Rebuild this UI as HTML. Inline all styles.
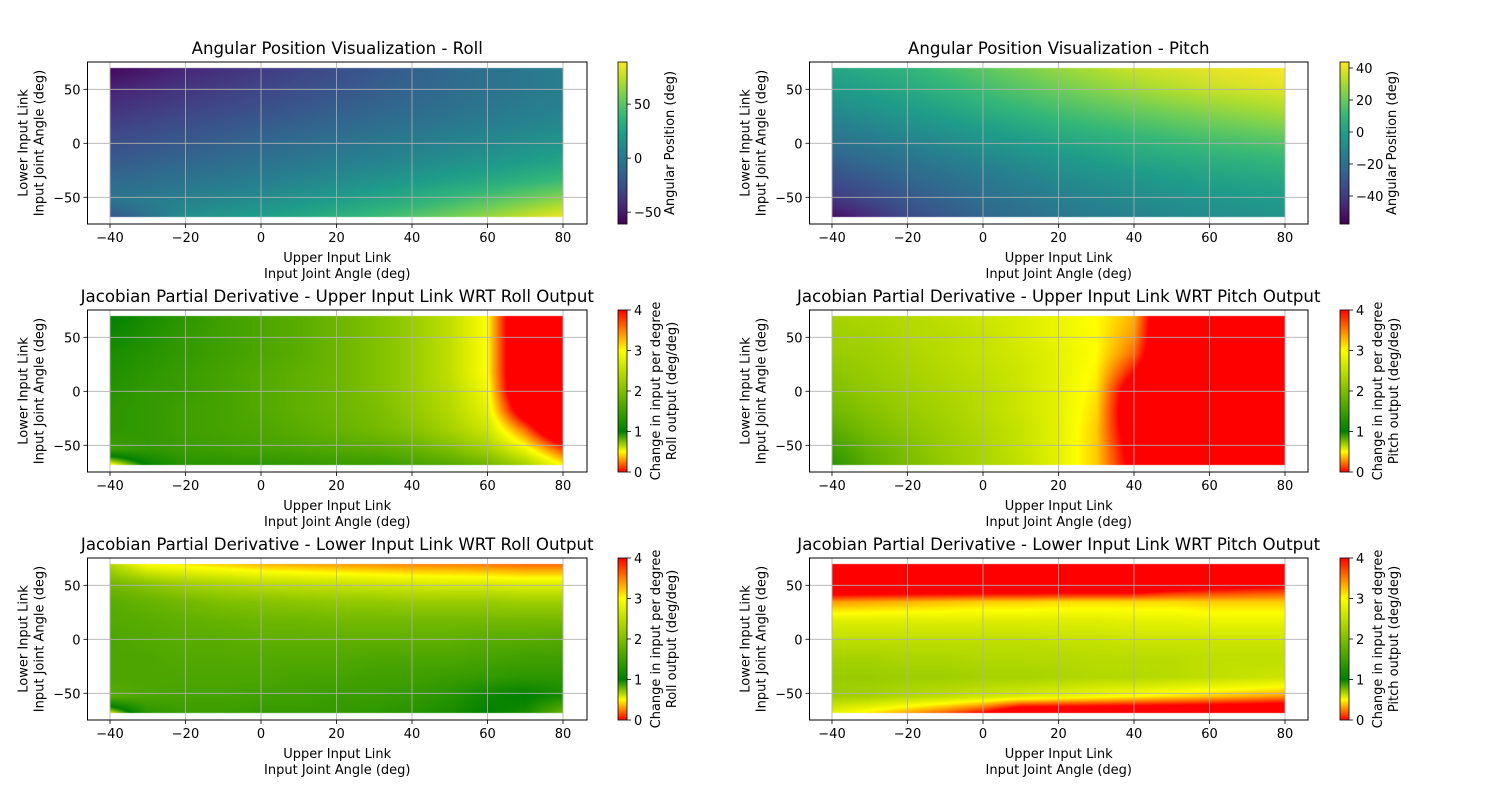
<!DOCTYPE html>
<html><head><meta charset="utf-8">
<style>
html,body{margin:0;padding:0;background:#fff;}
#wrap{position:relative;width:1500px;height:800px;overflow:hidden;}
canvas,svg{position:absolute;left:0;top:0;}
text{font-family:"DejaVu Sans","Liberation Sans",sans-serif;fill:#000;}
</style></head>
<body>
<div id="wrap">
<canvas id="cv" width="1500" height="800"></canvas>
<svg id="sv" width="1500" height="800" xmlns="http://www.w3.org/2000/svg"></svg>
</div>
<script>
// ---- data ----
const xCats = [-40,-30,-20,-10,0,10,20,30,40,50,60,70,80];
const xCats7 = [-40,-20,0,20,40,60,80];
const yCats = [70,52.5,35,17.5,0,-17.5,-35,-52.5,-70];
const xTicks = [-40,-20,0,20,40,60,80];
const yTicks = [-50,0,50];
const rollTicks = [-50,0,50];
const pitchTicks = [-40,-20,0,20,40];
const jacTicks = [0,1,2,3,4];

const rollValues = [
[-58,-45,-35,-25,-15,-5,3],
[-48,-38,-30,-22,-13,-5,3],
[-40,-32,-25,-17,-10,-2,5],
[-32,-25,-18,-11,-4,3,10],
[-25,-18,-11,-4,3,10,18],
[-18,-11,-4,3,10,18,27],
[-10,-3,4,12,20,30,42],
[-2,5,13,22,33,48,65],
[-25,15,24,35,50,68,88]];
const pitchValues = [
[2,8,18,28,36,40,43],
[-2,4,13,22,30,36,40],
[-8,-1,7,15,22,28,33],
[-14,-7,0,8,14,20,25],
[-20,-13,-6,1,7,12,16],
[-27,-19,-12,-5,1,5,9],
[-34,-25,-17,-10,-5,0,3],
[-42,-30,-21,-14,-9,-5,-2],
[-56,-35,-25,-18,-13,-9,-6]];
const jacUpperRoll = [
[1.0,1.2,1.35,1.5,1.6,1.7,1.85,2.0,2.2,2.5,3.0,5,5],
[1.1,1.25,1.4,1.5,1.6,1.7,1.85,2.0,2.2,2.5,3.0,5,5],
[1.2,1.3,1.4,1.5,1.6,1.7,1.85,2.0,2.2,2.5,3.0,5,5],
[1.25,1.35,1.45,1.55,1.65,1.75,1.85,2.0,2.2,2.5,3.0,5,5],
[1.3,1.4,1.45,1.55,1.65,1.75,1.85,2.0,2.2,2.45,2.9,5,5],
[1.35,1.4,1.5,1.55,1.65,1.75,1.85,1.95,2.15,2.4,2.8,4.5,5],
[1.35,1.4,1.5,1.55,1.6,1.7,1.8,1.9,2.05,2.3,2.6,3.6,5],
[1.5,1.4,1.45,1.5,1.55,1.6,1.65,1.7,1.8,2.0,2.3,2.9,3.8],
[0.3,1.0,1.3,1.3,1.3,1.35,1.4,1.4,1.5,1.6,1.8,2.2,2.9]];
const jacUpperPitch = [
[2.3,2.35,2.4,2.5,2.6,2.7,2.85,3.0,3.3,5,5,5,5],
[2.25,2.3,2.4,2.45,2.55,2.7,2.85,3.0,3.4,5,5,5,5],
[2.2,2.25,2.35,2.45,2.55,2.65,2.8,3.0,3.6,5,5,5,5],
[2.1,2.2,2.3,2.4,2.5,2.6,2.8,3.05,4.0,5,5,5,5],
[2.0,2.15,2.25,2.35,2.45,2.6,2.8,3.1,4.5,5,5,5,5],
[1.9,2.05,2.2,2.3,2.45,2.6,2.8,3.15,4.6,5,5,5,5],
[1.7,1.95,2.1,2.25,2.4,2.55,2.8,3.2,4.5,5,5,5,5],
[1.5,1.8,2.0,2.2,2.35,2.55,2.8,3.2,4.3,5,5,5,5],
[1.3,1.7,1.95,2.15,2.35,2.5,2.8,3.2,4.2,5,5,5,5]];
const jacLowerRoll = [
[2.4,3.0,3.1,3.2,3.3,3.35,3.4,3.45,3.5,3.5,3.55,3.6,3.6],
[1.9,2.1,2.3,2.4,2.5,2.55,2.6,2.65,2.7,2.75,2.75,2.8,2.8],
[1.7,1.8,1.9,2.0,2.05,2.1,2.15,2.15,2.2,2.2,2.2,2.25,2.25],
[1.65,1.7,1.75,1.8,1.85,1.85,1.9,1.9,1.9,1.9,1.9,1.9,1.9],
[1.6,1.65,1.7,1.7,1.75,1.75,1.75,1.75,1.75,1.75,1.7,1.7,1.65],
[1.6,1.6,1.65,1.65,1.65,1.65,1.65,1.6,1.6,1.6,1.55,1.5,1.5],
[1.6,1.6,1.6,1.6,1.6,1.55,1.55,1.5,1.5,1.45,1.4,1.35,1.35],
[1.7,1.6,1.55,1.55,1.5,1.5,1.45,1.45,1.4,1.3,1.1,1.0,1.2],
[0.4,1.3,1.45,1.45,1.4,1.4,1.4,1.35,1.3,1.2,1.0,1.2,1.9]];
const jacLowerPitch = [
[5,5,5,5,5,5,5,5,5,5,5,5,5],
[5,5,5,5,5,5,5,5,5,4.6,4.4,4.3,4.2],
[3.4,3.35,3.3,3.25,3.2,3.2,3.15,3.15,3.15,3.15,3.2,3.2,3.2],
[2.75,2.75,2.75,2.75,2.75,2.75,2.75,2.75,2.8,2.8,2.85,2.85,2.85],
[2.5,2.5,2.5,2.5,2.5,2.5,2.55,2.55,2.6,2.6,2.6,2.6,2.6],
[2.3,2.3,2.35,2.35,2.4,2.4,2.4,2.45,2.45,2.45,2.5,2.5,2.5],
[2.2,2.2,2.25,2.25,2.3,2.3,2.35,2.4,2.4,2.45,2.5,2.55,2.6],
[2.25,2.3,2.4,2.5,2.6,2.7,2.8,2.9,3.0,3.1,3.2,3.3,3.4],
[2.9,3.2,3.5,3.8,4.2,5,5,5,5,5,5,5,5]];

// ---- colormaps ----
const viridisStops=[[68,1,84],[72,40,120],[62,74,137],[49,104,142],[38,130,142],[31,158,137],[53,183,121],[109,205,89],[180,222,44],[253,231,37]];
function viridis(t){t=Math.max(0,Math.min(1,t));const n=viridisStops.length-1;const f=t*n;const i=Math.min(n-1,Math.floor(f));const u=f-i;const a=viridisStops[i],b=viridisStops[i+1];return [a[0]+(b[0]-a[0])*u,a[1]+(b[1]-a[1])*u,a[2]+(b[2]-a[2])*u];}
const jacStops=[[0,[255,0,0]],[0.125,[255,255,0]],[0.25,[0,128,0]],[0.75,[255,255,0]],[1,[255,0,0]]];
function jacmap(t){t=Math.max(0,Math.min(1,t));for(let i=0;i<jacStops.length-1;i++){const[p,a]=jacStops[i],[q,b]=jacStops[i+1];if(t<=q){const u=(t-p)/(q-p);return [a[0]+(b[0]-a[0])*u,a[1]+(b[1]-a[1])*u,a[2]+(b[2]-a[2])*u];}}return [255,0,0];}

// ---- layout ----
const cols=[{x0:87.5,x1:587,cb:618},{x0:809.5,x1:1308,cb:1340}];
const rows=[62,310,558];
const AH=162;
function xScale(c,v){const p40=c.x0+22.5;return p40+(v+40)*3.775;}
function yScale(top,v){return top+81.3-v*1.08;}

const plots=[
 {r:0,c:0,title:"Angular Position Visualization - Roll",grid:rollValues,xs:xCats7,map:viridis,vmin:-61,vmax:89,ticks:rollTicks,cbl:["Angular Position (deg)"],name:"roll"},
 {r:0,c:1,title:"Angular Position Visualization - Pitch",grid:pitchValues,xs:xCats7,map:viridis,vmin:-57.5,vmax:43.75,ticks:pitchTicks,cbl:["Angular Position (deg)"],name:"pitch"},
 {r:1,c:0,title:"Jacobian Partial Derivative - Upper Input Link WRT Roll Output",grid:jacUpperRoll,xs:xCats,map:jacmap,vmin:0,vmax:4,ticks:jacTicks,cbl:["Change in input per degree","Roll output (deg/deg)"],name:"jac-upper-roll"},
 {r:1,c:1,title:"Jacobian Partial Derivative - Upper Input Link WRT Pitch Output",grid:jacUpperPitch,xs:xCats,map:jacmap,vmin:0,vmax:4,ticks:jacTicks,cbl:["Change in input per degree","Pitch output (deg/deg)"],name:"jac-upper-pitch"},
 {r:2,c:0,title:"Jacobian Partial Derivative - Lower Input Link WRT Roll Output",grid:jacLowerRoll,xs:xCats,map:jacmap,vmin:0,vmax:4,ticks:jacTicks,cbl:["Change in input per degree","Roll output (deg/deg)"],name:"jac-lower-roll"},
 {r:2,c:1,title:"Jacobian Partial Derivative - Lower Input Link WRT Pitch Output",grid:jacLowerPitch,xs:xCats,map:jacmap,vmin:0,vmax:4,ticks:jacTicks,cbl:["Change in input per degree","Pitch output (deg/deg)"],name:"jac-lower-pitch"}
];

const ctx=document.getElementById('cv').getContext('2d');
const sv=document.getElementById('sv');
const NS="http://www.w3.org/2000/svg";
function mk(tag,attrs,parent,txt){const e=document.createElementNS(NS,tag);for(const k in attrs)e.setAttribute(k,attrs[k]);if(txt!==undefined)e.textContent=txt;(parent||sv).appendChild(e);return e;}

function sample(grid,xs,xv,yv){
 let i=0;while(i<xs.length-2&&xv>xs[i+1])i++;
 let u=(xv-xs[i])/(xs[i+1]-xs[i]);u=Math.max(0,Math.min(1,u));
 let j=0;while(j<yCats.length-2&&yv<yCats[j+1])j++;
 let w=(yCats[j]-yv)/(yCats[j]-yCats[j+1]);w=Math.max(0,Math.min(1,w));
 const a=grid[j][i],b=grid[j][i+1],c=grid[j+1][i],d=grid[j+1][i+1];
 return (a*(1-u)+b*u)*(1-w)+(c*(1-u)+d*u)*w;
}

plots.forEach(p=>{
 const c=cols[p.c],top=rows[p.r];
 const g=mk('g',{},sv);
 
 
 const px0=Math.round(xScale(c,xCats[0])),px1=Math.round(xScale(c,80));
 const py0=Math.round(yScale(top,70)),py1=Math.round(yScale(top,-68));
 const W=px1-px0,H=py1-py0;
 const img=ctx.createImageData(W,H);
 for(let y=0;y<H;y++){const yv=70-(y+0.5)/H*138;for(let x=0;x<W;x++){const xv=-40+(x+0.5)/W*120;const v=sample(p.grid,p.xs,xv,yv);const col=p.map((v-p.vmin)/(p.vmax-p.vmin));const k=(y*W+x)*4;img.data[k]=col[0];img.data[k+1]=col[1];img.data[k+2]=col[2];img.data[k+3]=255;}}
 ctx.putImageData(img,px0,py0);
 const hm=mk('rect',{x:px0,y:py0,width:W,height:H,fill:'none'},g);
 
 
 xTicks.forEach(t=>{const x=xScale(c,t);const l=mk('line',{x1:x,x2:x,y1:top,y2:top+AH,stroke:'#b0b0b0','stroke-width':0.8},g);
  mk('line',{x1:x,x2:x,y1:top+AH,y2:top+AH+4,stroke:'#000','stroke-width':0.8},g);
  const tx=mk('text',{x:x,y:top+AH+18,'text-anchor':'middle','font-size':13},g,t<0?'\u2212'+(-t):String(t));});
 yTicks.forEach(t=>{const y=yScale(top,t);const l=mk('line',{x1:c.x0,x2:c.x1,y1:y,y2:y,stroke:'#b0b0b0','stroke-width':0.8},g);
  mk('line',{x1:c.x0-4,x2:c.x0,y1:y,y2:y,stroke:'#000','stroke-width':0.8},g);
  const tx=mk('text',{x:c.x0-7,y:y+5,'text-anchor':'end','font-size':13},g,t<0?'\u2212'+(-t):String(t));});
 const fr=mk('rect',{x:c.x0,y:top,width:c.x1-c.x0,height:AH,fill:'none',stroke:'#000','stroke-width':1},g);
 
 const mid=(c.x0+c.x1)/2;
 const tt=mk('text',{x:mid,y:top-8,'text-anchor':'middle','font-size':16.6},g,p.title);
 
 const xl=mk('text',{x:mid,y:top+AH+38,'text-anchor':'middle','font-size':13},g);
 
 mk('tspan',{x:mid,dy:0},xl,'Upper Input Link');mk('tspan',{x:mid,dy:16},xl,'Input Joint Angle (deg)');
 const cy=top+AH/2,lx=c.x0-60;
 const yl=mk('text',{transform:`translate(${lx},${cy}) rotate(-90)`,'text-anchor':'middle','font-size':13},g);
 
 mk('tspan',{x:0,y:0},yl,'Lower Input Link');mk('tspan',{x:0,y:16},yl,'Input Joint Angle (deg)');
 const cbW=9;
 for(let y=0;y<AH;y++){const t=1-(y+0.5)/AH;const col=p.map(t);ctx.fillStyle=`rgb(${col[0]|0},${col[1]|0},${col[2]|0})`;ctx.fillRect(c.cb,top+y,cbW,1);}
 const cbr=mk('rect',{x:c.cb,y:top,width:cbW,height:AH,fill:'none',stroke:'#000','stroke-width':0.8},g);
 
 p.ticks.forEach(t=>{const y=top+AH-(t-p.vmin)/(p.vmax-p.vmin)*AH;mk('line',{x1:c.cb+cbW,x2:c.cb+cbW+4,y1:y,y2:y,stroke:'#000','stroke-width':0.8},g);
  const tx=mk('text',{x:c.cb+cbW+7,y:y+5,'font-size':13},g,t<0?'\u2212'+(-t):String(t));});
 const cl=mk('text',{transform:`translate(${c.cb+(p.cbl.length>1?42:56)},${cy}) rotate(-90)`,'text-anchor':'middle','font-size':13},g);
 
 p.cbl.forEach((s,i)=>mk('tspan',{x:0,y:i*16},cl,s));
});
</script>
</body></html>
